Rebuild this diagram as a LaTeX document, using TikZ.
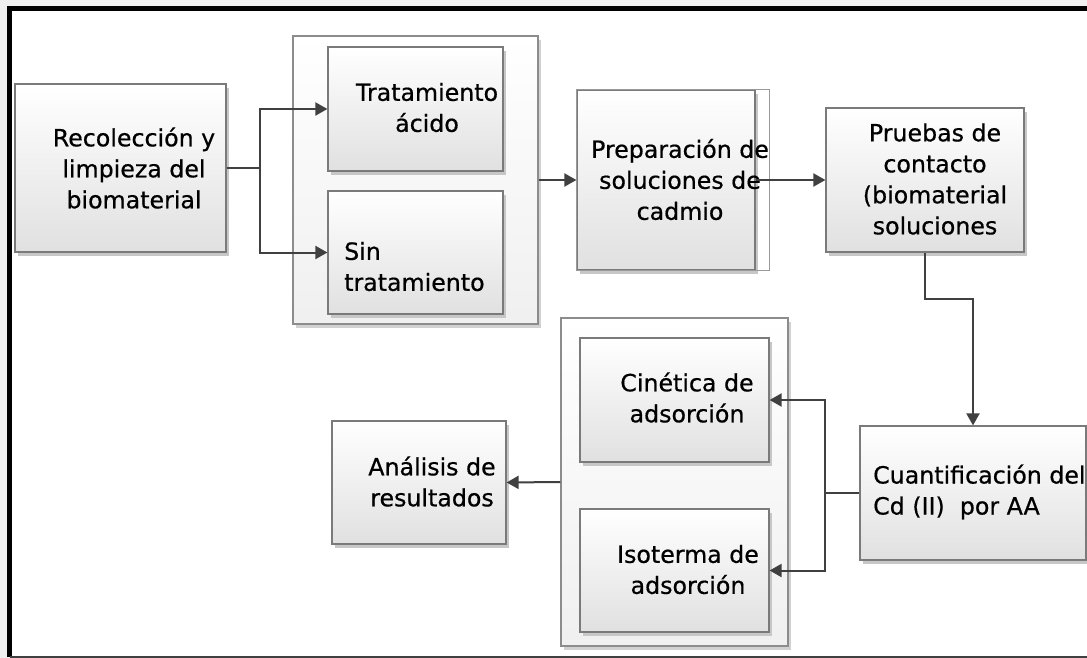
\documentclass[tikz,border=0pt]{standalone}
\usepackage{xcolor}
\usepackage{fontspec}
\setmainfont{DejaVu Sans}[FakeBold=0.6]
\newfontfamily\cajafont{DejaVu Sans}[FakeBold=0.6]
\usetikzlibrary{arrows.meta,shadows}

\begin{document}
\begin{tikzpicture}[x=1pt,y=-1pt,
        caja/.style={draw=black!52, line width=1.2pt, top color=white, bottom color=black!12,
            drop shadow={shadow xshift=3pt, shadow yshift=-4pt, fill=black!22, opacity=1},
            inner sep=0pt},
        grupo/.style={draw=black!45, line width=1.2pt, top color=white, bottom color=black!6,
            drop shadow={shadow xshift=3pt, shadow yshift=-4pt, fill=black!18, opacity=1},
            inner sep=0pt},
        texto/.style={font=\cajafont\fontsize{23.7}{31}\selectfont, text=black, inner sep=0pt},
        linea/.style={draw=black!75, line width=2pt},
        flecha/.style={linea, -{Triangle[length=12pt,width=13pt]}}]

        % Paso 1: Fondo y marco de la figura
        \useasboundingbox (0,0) rectangle (1087,658);
        \fill[black!6] (0,0) rectangle (1087,658);
        \fill[white] (9.5,9) rectangle (1087,657);
        \draw[line width=5pt] (1087,9) -- (9.5,9) -- (9.5,657);
        \draw[line width=2pt, black!75] (9.5,657) -- (1087,657);

        % Paso 2: Recoleccion y primer grupo (tratamientos)
        \node[caja, minimum width=211, minimum height=168] (recol) at (120.5,168) {};
        \node[texto, align=center] (recolT) at (134,168) {Recolección y\\limpieza del\\biomaterial};
        \node[grupo, minimum width=245, minimum height=288] (grupoA) at (415.5,180) {};
        \node[caja, minimum width=175, minimum height=124] (trat) at (415.5,109) {};
        \node[texto, align=center] (tratT) at (427,107.5) {Tratamiento\\ácido};
        \node[caja, minimum width=175, minimum height=123] (sin) at (415.5,252.5) {};
        \node[texto, align=left, anchor=west] (sinT) at (344,266.5) {Sin\\tratamiento};

        % Paso 3: Soluciones y pruebas de contacto
        \node[caja, minimum width=178, minimum height=180] (prep) at (666,180) {};
        \draw[black!40, line width=1.2pt] (prep.north west) rectangle ([xshift=14pt]prep.south east);
        \node[texto, align=center] (prepT) at (680,179.5) {Preparación de\\soluciones de\\cadmio};
        \node[caja, minimum width=198, minimum height=144] (pruebas) at (925,180) {};
        \node[texto, align=center] (pruebasT) at (935,179) {Pruebas de\\contacto\\(biomaterial\\soluciones};

        % Paso 4: Cuantificacion, segundo grupo y analisis
        \node[caja, minimum width=226, minimum height=134] (cuant) at (973,493) {};
        \node[texto, align=left, anchor=west] (cuantT) at (873,492) {Cuantificación del\\Cd (II)~ por AA};
        \node[grupo, minimum width=227, minimum height=328] (grupoB) at (674.5,482) {};
        \node[caja, minimum width=189, minimum height=124] (cinet) at (674.5,400) {};
        \node[texto, align=center] (cinetT) at (687,397.5) {Cinética de\\adsorción};
        \node[caja, minimum width=189, minimum height=123] (iso) at (674.5,570.5) {};
        \node[texto, align=center] (isoT) at (688,569.5) {Isoterma de\\adsorción};
        \node[caja, minimum width=174, minimum height=123] (anal) at (419,482.5) {};
        \node[texto, align=center] (analT) at (432,481.5) {Análisis de\\resultados};

        % Paso 5: Conectores
        \draw[linea] (recol.east) -- ++(33,0) coordinate (ramaA);
        \draw[flecha] (ramaA) |- (trat.west);
        \draw[flecha] (ramaA) |- (sin.west);
        \draw[flecha] (grupoA.east) -- (prep.west);
        \draw[flecha] (prep.east) -- (pruebas.west);
        \draw[flecha] (pruebas.south) -- ++(0,46) -| (cuant.north);
        \draw[linea] (cuant.west) -- ++(-34,0) coordinate (ramaB);
        \draw[flecha] (ramaB) |- (cinet.east);
        \draw[flecha] (ramaB) |- (iso.east);
        \draw[flecha] (grupoB.west) -- (anal.east);
    \end{tikzpicture}
\end{document}
